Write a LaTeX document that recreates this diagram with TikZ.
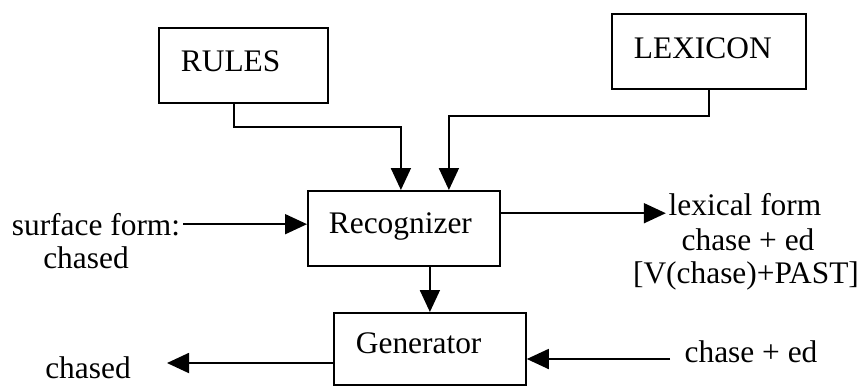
\documentclass[tikz,border=0pt]{standalone}
\usepackage{fontspec}
\setmainfont{Liberation Serif}
\usepackage{tikz}
\usetikzlibrary{arrows.meta,calc}

\begin{document}
\begin{tikzpicture}[x=0.5pt,y=-0.5pt,line width=0.9pt,
		font=\fontsize{15.7}{17.5}\selectfont,
		box/.style={draw,rectangle,inner ysep=0pt,inner xsep=11pt,align=left},
		arr/.style={-{Triangle[length=11pt,width=10pt]}},
		lbl/.style={anchor=base,inner sep=1pt}]
		\useasboundingbox (0,0) rectangle (866,387);
		% the boxes
		\node[box,anchor=north west,text width=62.5pt,text height=22pt,text depth=15.5pt] (rules) at (158,27) {RULES};
		\node[box,anchor=north west,text width=75pt,text height=22.5pt,text depth=15pt] (lex) at (611,13) {LEXICON};
		\node[box,anchor=north west,inner xsep=10.5pt,text width=75pt,text height=21.5pt,text depth=16pt] (rec) at (307,190) {Recognizer};
		\node[box,anchor=north west,text width=74pt,text height=20.5pt,text depth=15.5pt] (gen) at (333,312) {Generator};
		% the texts
		\node[lbl] (sf) at (96,235) {surface form:};
		\node[lbl] (sfw) at (86,268) {chased};
		\node[lbl] (lf) at (745,215) {lexical form};
		\node[lbl] (lfm) at (748,250) {chase + ed};
		\node[lbl] (lfa) at (746,283) {[V(chase)+PAST]};
		\node[lbl] (out) at (88,378) {chased};
		\node[lbl] (in) at (751,362) {chase + ed};
		\coordinate (rin) at ([xshift=-1.5pt]rec.north);
		\coordinate (lin) at ([xshift=22.5pt]rec.north);
		\coordinate (lfin) at ([yshift=2.5pt]lf.south west);
		\coordinate (outtip) at (167,363);
		\coordinate (inend) at (670,359);
		% the arrows
		\draw[arr] ([xshift=-4.75pt]rules.south) -- ++(0pt,-11.5pt) -| (rin);
		\draw[arr] (lex.south) -- ++(0pt,-13pt) -| (lin);
		\draw[arr] (sf.east) -- (sf.east -| rec.west);
		\draw[arr] (rec.east |- lfin) -- (lfin);
		\draw[arr] (rec.south -| gen.north) -- (gen.north);
		\draw[arr] (gen.west |- outtip) -- (outtip);
		\draw[arr] (inend) -- (inend -| gen.east);
\end{tikzpicture}
\end{document}
